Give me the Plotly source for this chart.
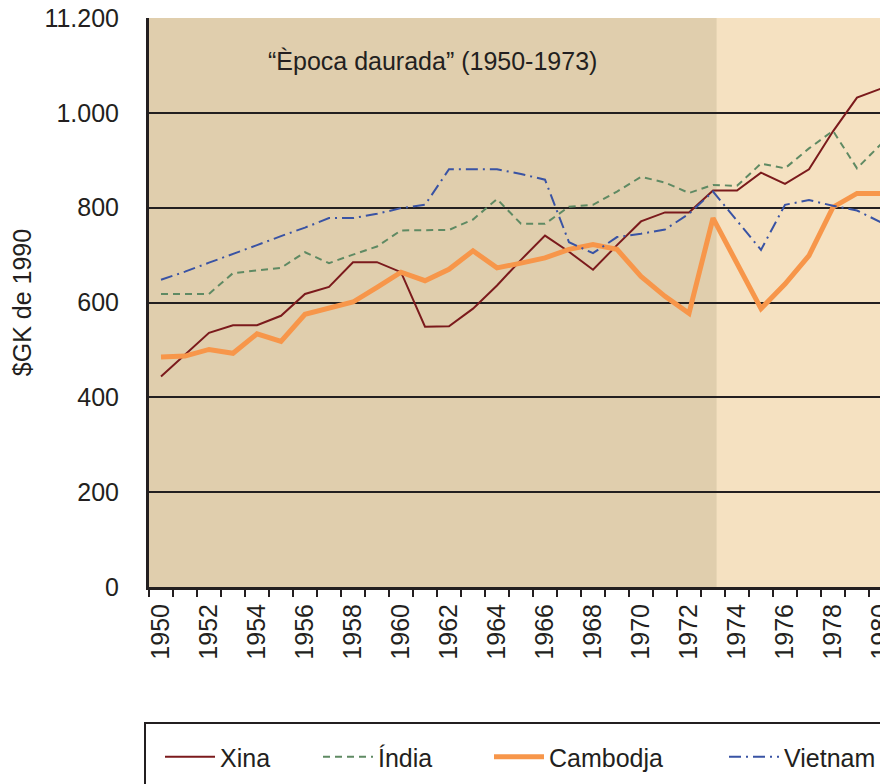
import plotly.graph_objects as go

# PIB per capita (dòlars Geary-Khamis de 1990)
years = list(range(1950, 1981))

xina = [444, 490, 536, 552, 552, 572, 618, 633, 685, 685, 664,
        549, 550, 587, 636, 690, 741, 707, 669, 721, 771,
        790, 790, 836, 836, 874, 850, 881, 961, 1032, 1051]

india = [618, 618, 618, 662, 667, 673, 706, 683, 701, 718, 752,
         752, 753, 775, 818, 766, 766, 802, 806, 834, 865,
         853, 831, 848, 846, 893, 883, 925, 962, 883, 934]

cambodja = [485, 487, 501, 493, 534, 518, 575, 587, 601, 632, 664,
            646, 670, 709, 673, 683, 694, 712, 722, 712, 655,
            613, 577, 778, 681, 587, 639, 699, 801, 830, 830]

vietnam = [648, 665, 684, 702, 721, 740, 758, 778, 778, 787, 799,
           806, 881, 881, 881, 871, 859, 727, 704, 738, 745,
           754, 787, 834, 773, 711, 806, 816, 804, 794, 769]

y_ticks = [0, 200, 400, 600, 800, 1000, 1200]
y_labels = ['0', '200', '400', '600', '800', '1.000', '11.200']
x_label_years = years[::2]

FONT = 'Liberation Sans, Arial, sans-serif'
INK = '#231f20'

W, H = 888, 784
L, R, T, B = 141, 3, 10, 205
pw, ph = W - L - R, H - T - B
OFF = 8  # marge del body de la pàgina


def px_x(p):
    # posició en pantalla -> coordenada paper
    return (p - OFF - L) / pw


def px_y(p):
    return (H - B - (p - OFF)) / ph


fig = go.Figure()

series = [
    ('Xina', xina, dict(color='#7b1a1c', width=2), 'legend'),
    ('Índia', india, dict(color='#5f8a63', width=2, dash='7px,5px'), 'legend2'),
    ('Cambodja', cambodja, dict(color='#f7964a', width=5), 'legend3'),
    ('Vietnam', vietnam, dict(color='#3953a4', width=2, dash='12px,5px,2px,5px'), 'legend4'),
]
for name, vals, line, leg in series:
    fig.add_trace(go.Scatter(x=years, y=vals, name=name, mode='lines',
                             line=line, legend=leg))

# fons: "època daurada" més fosc
fig.add_shape(type='rect', xref='x', yref='paper', x0=1949.4, x1=1973.15, y0=0, y1=1,
              fillcolor='#e0cead', line_width=0, layer='below')

# caixa de la llegenda
fig.add_shape(type='rect', xref='paper', yref='paper',
              x0=px_x(145), x1=px_x(905), y0=px_y(723), y1=px_y(800),
              line=dict(color=INK, width=2), fillcolor='rgba(0,0,0,0)')

fig.add_annotation(text='“Època daurada” (1950-1973)', xref='paper', yref='paper',
                   x=px_x(432), y=px_y(61), xanchor='center', yanchor='middle',
                   showarrow=False, font=dict(size=25, color=INK, family=FONT))

leg_common = dict(orientation='h', yanchor='middle', xanchor='left',
                  bgcolor='rgba(0,0,0,0)', borderwidth=0, itemwidth=50,
                  font=dict(size=25, color=INK, family=FONT))
leg_y = px_y(757)
fig.update_layout(
    legend=dict(x=px_x(160), y=leg_y, **leg_common),
    legend2=dict(x=px_x(318), y=leg_y, **leg_common),
    legend3=dict(x=px_x(489), y=leg_y, **leg_common),
    legend4=dict(x=px_x(724), y=leg_y, **leg_common),
)

fig.update_layout(
    width=W, height=H,
    margin=dict(l=L, r=R, t=T, b=B),
    paper_bgcolor='white',
    plot_bgcolor='#f5e1c1',
    font=dict(family=FONT, size=25, color=INK),
    showlegend=True,
)

fig.update_xaxes(
    range=[1949.5, 1980.5], automargin=False,
    tickmode='array', tickvals=x_label_years, ticktext=[str(y) for y in x_label_years],
    tickangle=-90, ticks='', ticklabelstandoff=4, ticklabeloverflow='allow',
    tickfont=dict(size=25, color=INK),
    minor=dict(tickmode='array', tickvals=[y - 0.5 for y in years],
               ticks='outside', ticklen=7, tickcolor=INK, tickwidth=1.5, showgrid=False),
    showgrid=False, zeroline=False,
    showline=True, linecolor=INK, linewidth=3,
)

fig.update_yaxes(
    range=[0, 1200], automargin=False,
    tickmode='array', tickvals=y_ticks, ticktext=y_labels,
    ticks='', ticklabelstandoff=22, ticklabeloverflow='allow',
    tickfont=dict(size=25, color=INK),
    showgrid=True, gridcolor=INK, gridwidth=2,
    zeroline=False,
    showline=True, linecolor=INK, linewidth=3,
    title=dict(text='$GK de 1990', font=dict(size=25, color=INK), standoff=12),
)

fig.write_html('out.html')
